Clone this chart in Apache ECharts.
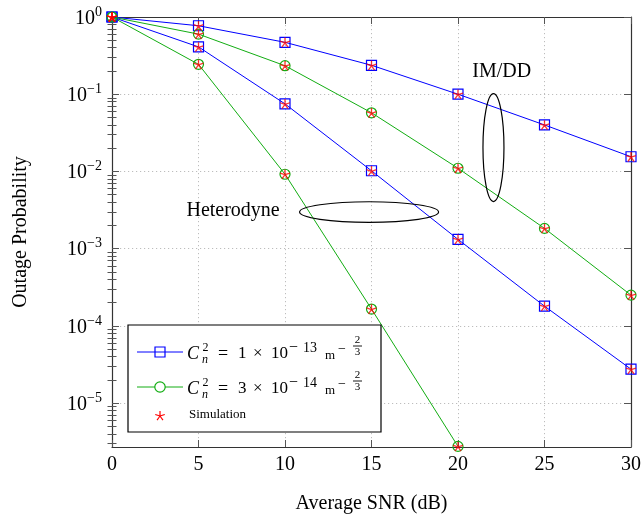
<!DOCTYPE html>
<html><head><meta charset="utf-8">
<script src="https://cdn.jsdelivr.net/npm/echarts@6/dist/echarts.min.js"></script>
<style>html,body{margin:0;padding:0;background:#fff}#c{width:641px;height:516px}</style>
</head><body><div id="c"></div>
<script>
// ---- data ----
const snr = [0, 5, 10, 15, 20, 25, 30];
const imddStrong = [1, 0.77, 0.47, 0.237, 0.10, 0.040, 0.0155];      // blue, Cn2 = 1e-13
const imddWeak   = [1, 0.60, 0.234, 0.0575, 0.011, 0.00183, 0.00025]; // green, Cn2 = 3e-14
const hetStrong  = [1, 0.41, 0.075, 0.0102, 0.00132, 0.000180, 0.0000275];
const snrHetWeak = [0, 5, 10, 15, 20];
const hetWeak    = [1, 0.244, 0.0092, 0.000165, 0.00000275];
const yDecadeExponents = [-5, -4, -3, -2, -1, 0];
const xTickValues = [0, 5, 10, 15, 20, 25, 30];
const yRange = [2.7e-6, 1];
const legendCoeff = ['1', '3'];
const legendExp = ['13', '14'];
const simulationLabel = 'Simulation';
const xTitle = 'Average SNR (dB)';
const yTitle = 'Outage Probability';
// annotations in data coordinates [snr, probability]
const imddEllipseAt = [22.05, 0.0204];
const imddTextAt = [22.53, 0.195];
const hetEllipseAt = [14.86, 0.00298];
const hetTextAt = [7.0, 0.00307];

const BLUE = '#0000ff', GREEN = '#12ad12', RED = '#ff0000';
const SERIF = '"Liberation Serif", "Times New Roman", serif';
const L = Math.log10;

const pairs = (xs, ys) => xs.map((x, i) => [x, L(ys[i])]);
const minorTicks = [];
for (let n = -6; n < 0; n++) for (let k = 2; k <= 9; k++) {
  const v = L(k * Math.pow(10, n));
  if (v >= L(yRange[0]) && v <= L(yRange[1])) minorTicks.push(v);
}
const STAR = 'path://M0,-10L0,0M9.51,-3.09L0,0M5.88,8.09L0,0M-5.88,8.09L0,0M-9.51,-3.09L0,0';

function curve(name, xs, ys, color, symbol) {
  return {
    type: 'line', name, data: pairs(xs, ys), symbol, symbolSize: symbol === 'rect' ? 10 : 10,
    showAllSymbol: true, clip: false, z: 3,
    lineStyle: { color, width: 1 },
    itemStyle: { color: 'rgba(0,0,0,0)', borderColor: color, borderWidth: 1.2 },
    emphasis: { disabled: true }, animation: false
  };
}
const simData = [].concat(pairs(snr, imddStrong), pairs(snr, imddWeak), pairs(snr, hetStrong), pairs(snrHetWeak, hetWeak));

const axisLineStyle = { color: '#333', width: 1.2 };
const tickStyle = { color: '#555', width: 1 };
function yAx(position, custom, len, extra) {
  return Object.assign({
    type: 'value', position, min: L(yRange[0]), max: L(yRange[1]),
    axisLine: { show: false },
    axisTick: { show: true, inside: true, length: len, customValues: custom, lineStyle: tickStyle },
    axisLabel: { show: false }, splitLine: { show: false }
  }, extra || {});
}

const chart = echarts.init(document.getElementById('c'), null, { renderer: 'canvas' });
chart.setOption({
  animation: false,
  backgroundColor: '#fff',
  grid: { left: 112, right: 10, top: 17, bottom: 69, containLabel: false, outerBoundsMode: 'none' },
  xAxis: [
    { type: 'value', position: 'bottom', min: 0, max: 30, interval: 5,
      axisLine: { show: true, lineStyle: axisLineStyle, onZero: false },
      axisTick: { show: true, inside: true, length: 7, lineStyle: tickStyle },
      axisLabel: { margin: 8, fontSize: 20, fontFamily: SERIF, color: '#000', customValues: xTickValues },
      splitLine: { show: true, lineStyle: { color: '#bdbdbd', type: [1.2, 2.8], width: 1 } },
      name: xTitle, nameLocation: 'middle', nameGap: 47,
      nameTextStyle: { fontSize: 20, fontFamily: SERIF, color: '#000' } },
    { type: 'value', position: 'top', min: 0, max: 30, interval: 5,
      axisLine: { show: true, lineStyle: axisLineStyle, onZero: false },
      axisTick: { show: true, inside: true, length: 7, lineStyle: tickStyle },
      axisLabel: { show: false }, splitLine: { show: false } }
  ],
  yAxis: [
    yAx('left', yDecadeExponents, 7, {
      axisLine: { show: true, lineStyle: axisLineStyle, onZero: false },
      axisLabel: {
        show: true, margin: 10, customValues: yDecadeExponents,
        formatter: v => '{b|10}{s|' + (Math.round(v) < 0 ? '\u2212' + (-Math.round(v)) : Math.round(v)) + '}',
        rich: {
          b: { fontSize: 20, fontFamily: SERIF, color: '#000', padding: [3, 0, 0, 0] },
          s: { fontSize: 14, fontFamily: SERIF, color: '#000', padding: [0, 0, 10, 0] }
        }
      },
      splitLine: { show: true, lineStyle: { color: '#bdbdbd', type: [1.2, 2.8], width: 1 } },
      name: yTitle, nameLocation: 'middle', nameGap: 81, nameRotate: 90,
      nameTextStyle: { fontSize: 20, fontFamily: SERIF, color: '#000', padding: [0, 0, 0, 0] }
    }),
    yAx('left', minorTicks, 4.5),
    yAx('right', yDecadeExponents, 7, { axisLine: { show: true, lineStyle: axisLineStyle, onZero: false } }),
    yAx('right', minorTicks, 4.5)
  ],
  series: [
    curve('c1', snr, imddStrong, BLUE, 'rect'),
    curve('c2', snr, imddWeak, GREEN, 'circle'),
    curve('c1', snr, hetStrong, BLUE, 'rect'),
    curve('c2', snrHetWeak, hetWeak, GREEN, 'circle'),
    { type: 'scatter', name: simulationLabel, data: simData, symbol: STAR, symbolSize: 10,
      symbolKeepAspect: true, clip: false, z: 4,
      itemStyle: { color: 'rgba(0,0,0,0)', borderColor: RED, borderWidth: 1.3 },
      emphasis: { disabled: true } }
  ]
});

// ---- annotations & legend ----
const px = p => chart.convertToPixel({ gridIndex: 0 }, [p[0], L(p[1])]);
const g = [];
const ie = px(imddEllipseAt), it = px(imddTextAt), he = px(hetEllipseAt), ht = px(hetTextAt);
g.push({ type: 'ellipse', z: 50, shape: { cx: ie[0], cy: ie[1], rx: 10.5, ry: 54 }, style: { fill: 'none', stroke: '#000', lineWidth: 1.2 } });
g.push({ type: 'ellipse', z: 50, shape: { cx: he[0], cy: he[1], rx: 69.5, ry: 10.3 }, style: { fill: 'none', stroke: '#000', lineWidth: 1.2 } });
g.push({ type: 'text', z: 50, x: it[0], y: it[1], style: { text: 'IM/DD', font: '20px ' + SERIF, fill: '#000', align: 'center', verticalAlign: 'middle' } });
g.push({ type: 'text', z: 50, x: ht[0], y: ht[1], style: { text: 'Heterodyne', font: '20px ' + SERIF, fill: '#000', align: 'center', verticalAlign: 'middle' } });

// legend box
g.push({ type: 'rect', z: 60, shape: { x: 128, y: 325, width: 253, height: 107 }, style: { fill: '#fff', stroke: '#000', lineWidth: 1.2 } });
const rowsY = [352, 387];
const rowColors = [BLUE, GREEN];
function txt(t, x, y, size, italic, align) {
  g.push({ type: 'text', z: 61, x, y, style: { text: t, font: (italic ? 'italic ' : '') + size + 'px ' + SERIF, fill: '#000', align: align || 'left', verticalAlign: 'middle' } });
}
rowsY.forEach((yc, i) => {
  g.push({ type: 'line', z: 61, shape: { x1: 137, y1: yc, x2: 183, y2: yc }, style: { stroke: rowColors[i], lineWidth: 1 } });
  if (i === 0) g.push({ type: 'rect', z: 62, shape: { x: 155, y: yc - 5, width: 10, height: 10 }, style: { fill: 'rgba(0,0,0,0)', stroke: BLUE, lineWidth: 1.2 } });
  else g.push({ type: 'circle', z: 62, shape: { cx: 160, cy: yc, r: 5.2 }, style: { fill: '#fff', stroke: GREEN, lineWidth: 1.2 } });
  txt('C', 187, yc + 2, 18, true);
  txt('2', 202.5, yc - 4, 12, false);
  txt('n', 202, yc + 8, 12, true);
  txt('=', 218, yc + 2, 18, false);
  txt(legendCoeff[i], 238, yc + 2, 17, false);
  txt('\u00d7', 253, yc + 2, 17, false);
  txt('10', 271, yc + 2, 17, false);
  txt('\u2212', 289, yc - 4, 16, false);
  txt(legendExp[i], 303, yc - 4, 14, false);
  txt('m', 325, yc + 4, 13, false);
  txt('\u2212', 338, yc - 3, 14, false);
  txt('2', 357.5, yc - 12, 11, false, 'center');
  g.push({ type: 'line', z: 61, shape: { x1: 353, y1: yc - 6, x2: 362, y2: yc - 6 }, style: { stroke: '#000', lineWidth: 0.9 } });
  txt('3', 357.5, yc + 0.5, 11, false, 'center');
});
// simulation star
const sx = 160, sy = 416;
for (let k = 0; k < 5; k++) {
  const a = -Math.PI / 2 + k * 2 * Math.PI / 5;
  g.push({ type: 'line', z: 62, shape: { x1: sx, y1: sy, x2: sx + 5 * Math.cos(a), y2: sy + 5 * Math.sin(a) }, style: { stroke: RED, lineWidth: 1.2 } });
}
txt(simulationLabel, 189, 415, 13, false);
chart.setOption({ graphic: g });
</script>
</body></html>
